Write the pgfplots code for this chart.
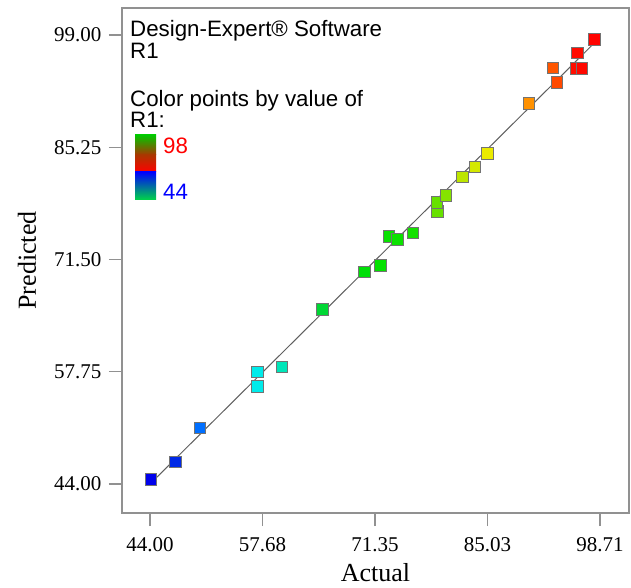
\documentclass[border=0pt]{standalone}
\usepackage{fontspec}
\setmainfont{Liberation Serif}
\newfontfamily\arial{Liberation Sans}
\usepackage{pgfplots}
\pgfplotsset{compat=1.18}
\definecolor{axgray}{RGB}{145,145,145}
\definecolor{linegray}{RGB}{95,95,95}
\begin{document}
\begin{tikzpicture}
\useasboundingbox (-122pt,-74pt) rectangle (509pt,513pt);
\begin{axis}[
 scale only axis, width=507pt, height=505pt,
 xmin=40.60, xmax=102.24, ymin=40.45, ymax=102.31,
 axis line style={axgray, line width=1.3pt},
 tick style={axgray, line width=1.3pt},
 tick align=outside, major tick length=13pt,
 xtick pos=bottom, ytick pos=left,
 xtick={44,57.68,71.35,85.03,98.71},
 xticklabels={44.00,57.68,71.35,85.03,98.71},
 ytick={44,57.75,71.5,85.25,99},
 yticklabels={44.00,57.75,71.50,85.25,99.00},
 ticklabel style={font=\fontsize{21}{24}\selectfont, text=black},
 xticklabel style={yshift=-8pt},
 yticklabel style={xshift=-4pt},
 xlabel={Actual}, ylabel={Predicted},
 label style={font=\fontsize{26}{30}\selectfont},
 xlabel style={at={(axis description cs:0.5,-0.1347)}, anchor=base},
 ylabel style={at={(axis description cs:-0.1700,0.5)}, anchor=base},
 colormap={de}{rgb255(0cm)=(0,0,235) rgb255(3cm)=(0,40,230) rgb255(6cm)=(0,110,255) rgb255(13cm)=(0,235,235) rgb255(16cm)=(0,230,185) rgb255(21cm)=(0,215,50) rgb255(27cm)=(0,225,0) rgb255(32cm)=(20,225,0) rgb255(35cm)=(105,225,0) rgb255(38cm)=(190,230,0) rgb255(41cm)=(235,235,0) rgb255(46cm)=(255,145,0) rgb255(49cm)=(255,85,0) rgb255(52cm)=(255,10,0) rgb255(54.71cm)=(255,0,0)},
 point meta min=44, point meta max=98.71,
 clip=false,
]
\addplot[scatter, only marks, mark=square*, mark size=5.75pt, scatter src=x,
  scatter/use mapped color={draw=black!55, fill=mapped color}] table {
x y
44.08 44.62
47.04 46.74
50.07 50.90
57.03 57.76
57.03 56.00
59.99 58.37
64.92 65.40
70.02 70.01
72.01 70.83
73.02 74.38
74.08 73.98
75.97 74.78
78.94 77.44
78.89 78.51
79.98 79.40
81.97 81.64
83.47 82.87
85.01 84.51
90.02 90.63
92.97 95.00
93.46 93.21
95.97 96.83
95.85 94.92
96.50 94.92
98.00 98.51
};
\addplot[linegray, line width=1pt, no marks] coordinates {(44,44) (98.71,98.71)};
\end{axis}
\begin{scope}[every node/.style={anchor=base west, inner sep=0pt, font=\arial\fontsize{22.3}{25}\selectfont}]
\node at (8pt,476pt) {Design-Expert® Software};
\node at (8pt,454pt) {R1};
\node at (8pt,406pt) {Color points by value of};
\node at (8pt,385pt) {R1:};
\node[text=red] at (41pt,359pt) {98};
\node[text=blue] at (41pt,313pt) {44};
\end{scope}
\shade[top color={rgb,255:red,0;green,200;blue,0}, bottom color={rgb,255:red,170;green,55;blue,0}] (13pt,358pt) rectangle (34pt,378pt);
\shade[top color={rgb,255:red,170;green,55;blue,0}, bottom color={rgb,255:red,255;green,0;blue,0}] (13pt,341pt) rectangle (34pt,358.3pt);
\shade[top color={rgb,255:red,0;green,0;blue,255}, bottom color={rgb,255:red,0;green,215;blue,70}] (13pt,313pt) rectangle (34pt,341pt);
\end{tikzpicture}
\end{document}
